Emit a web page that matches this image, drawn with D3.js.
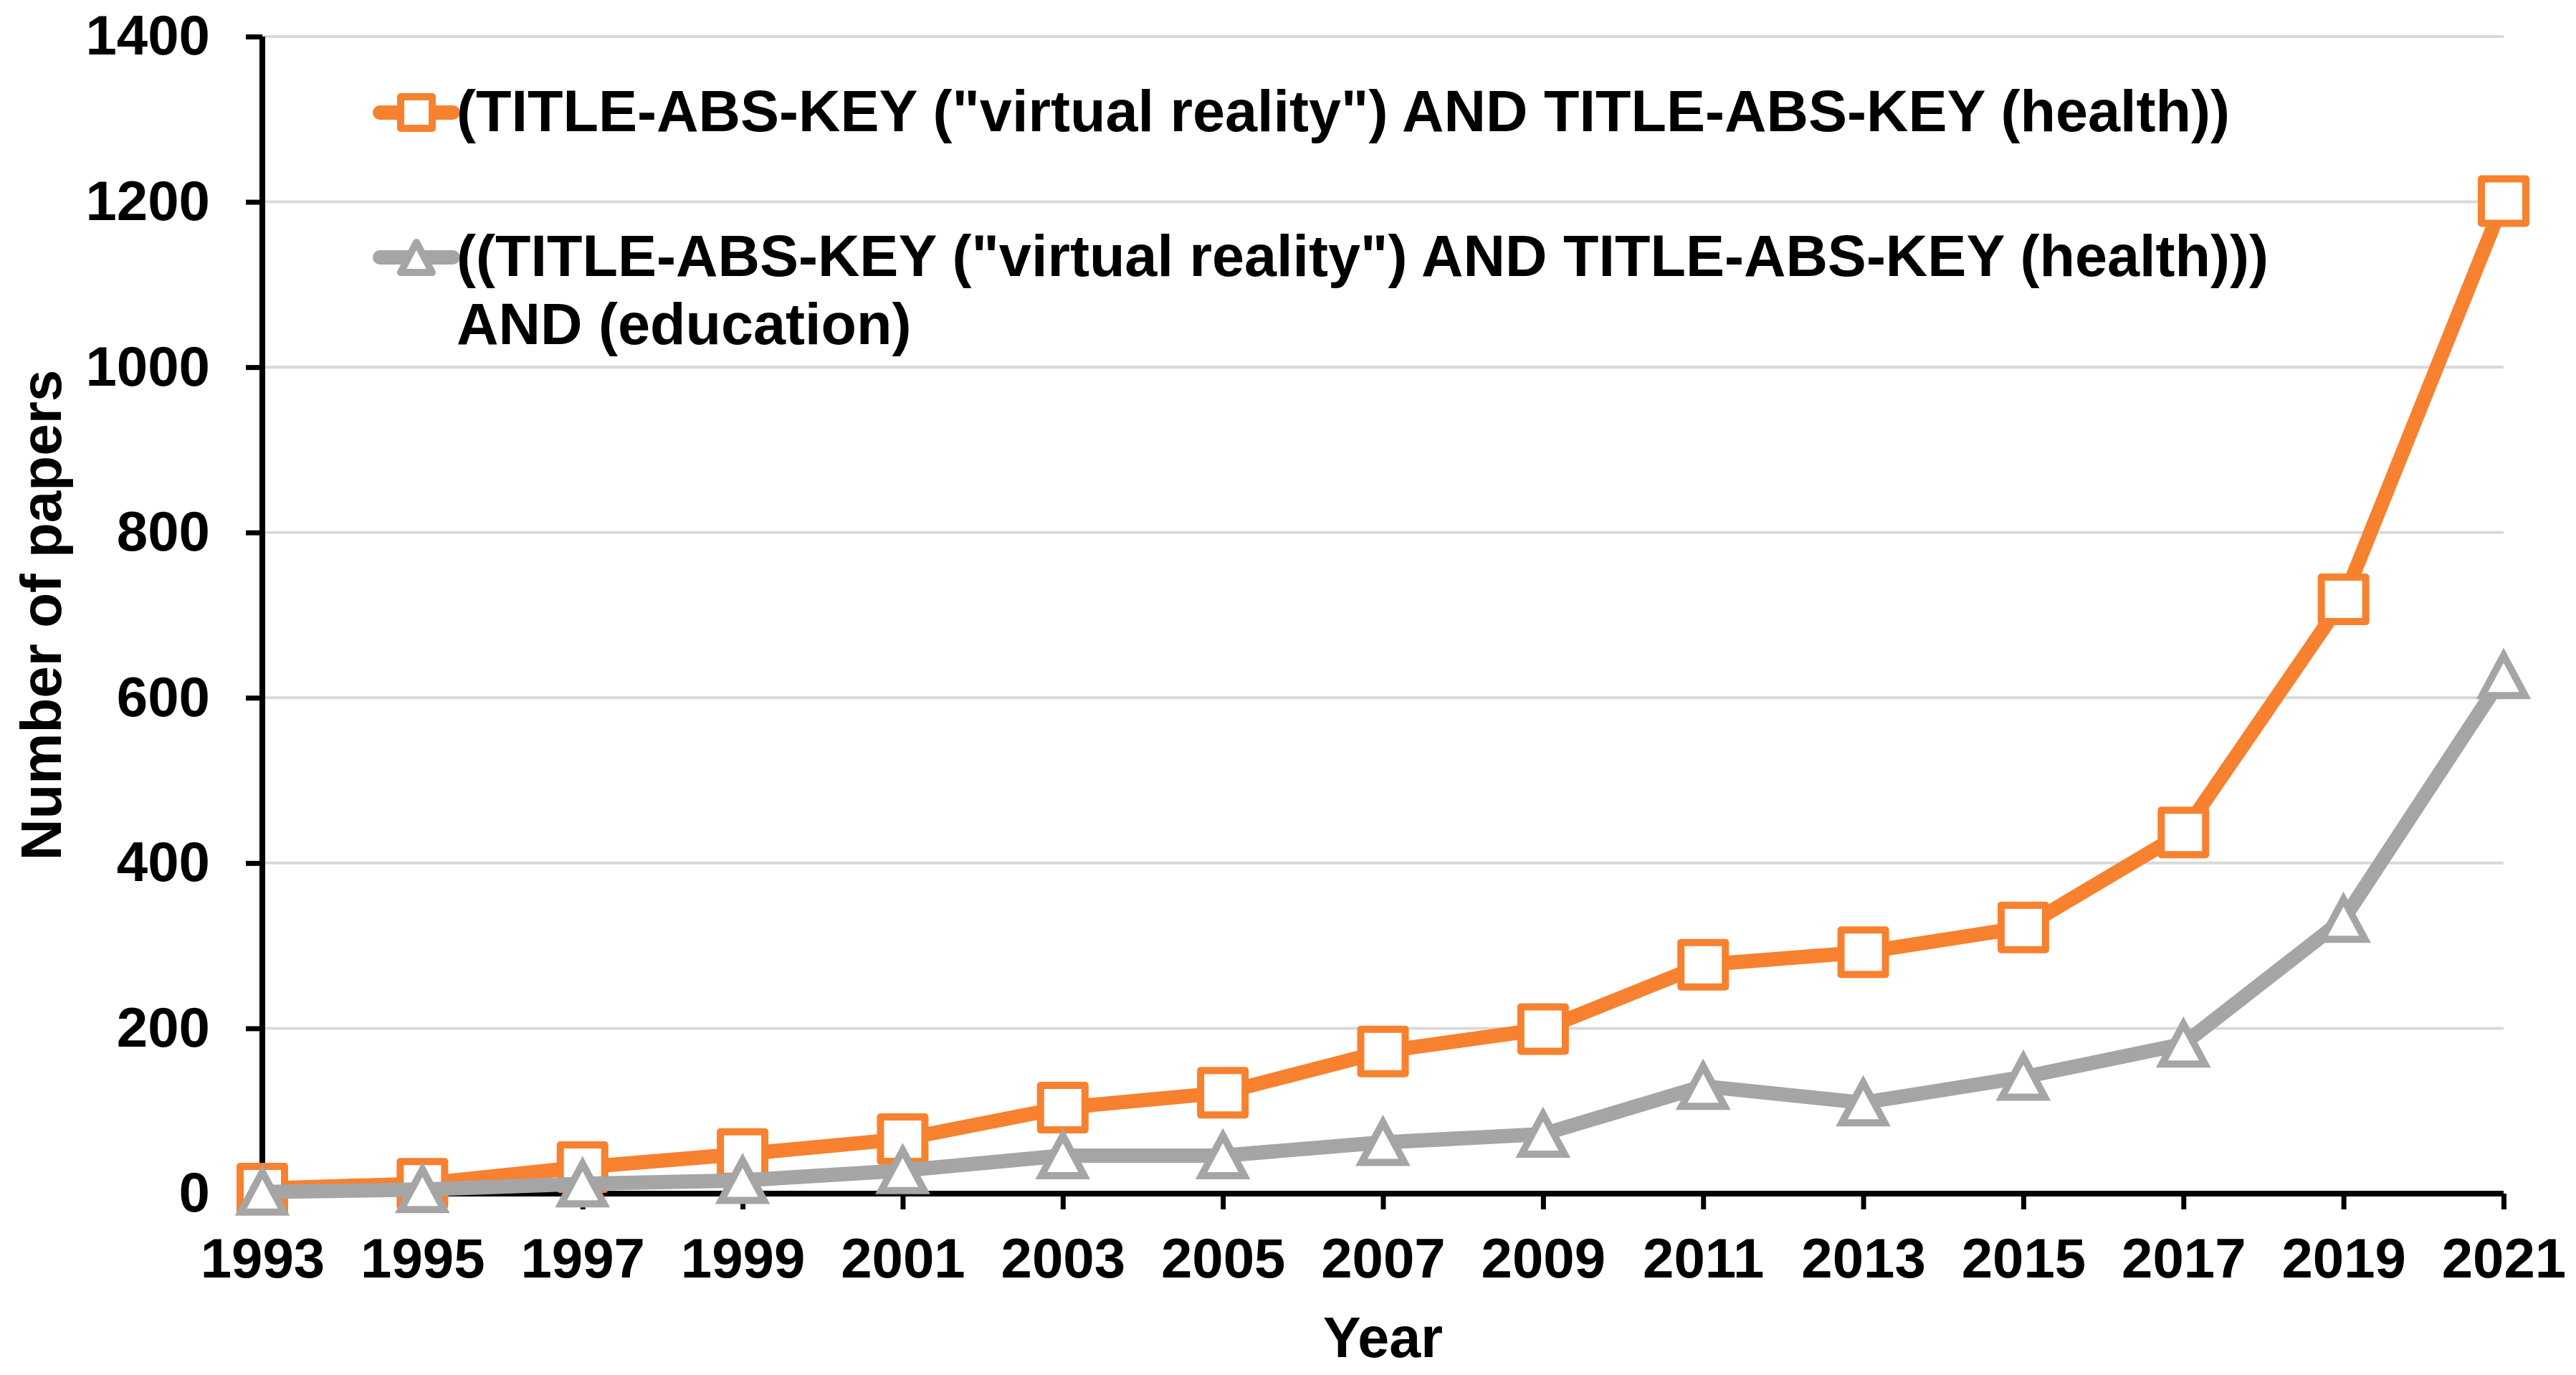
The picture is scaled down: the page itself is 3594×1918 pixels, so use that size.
<!DOCTYPE html>
<html>
<head>
<meta charset="utf-8">
<script src="https://cdn.jsdelivr.net/npm/d3@7"></script>
<style>
  body { margin: 0; background: #fff; }
  text { font-family: "Liberation Sans", Arial, sans-serif; font-weight: bold; fill: #000; }
</style>
</head>
<body>
<div id="chart"></div>
<script>
// values
const years = [1993, 1995, 1997, 1999, 2001, 2003, 2005, 2007, 2009, 2011, 2013, 2015, 2017, 2019, 2021];
const vrHealth = [6, 12, 32, 48, 66, 104, 122, 172, 199, 277, 292, 322, 437, 719, 1201];
const vrHealthEdu = [2, 5, 12, 16, 28, 46, 46, 62, 72, 130, 110, 141, 181, 332, 627];
const yTicks = [0, 200, 400, 600, 800, 1000, 1200, 1400];
const legendLabels = [
  ["(TITLE-ABS-KEY (\"virtual reality\") AND TITLE-ABS-KEY (health))"],
  ["((TITLE-ABS-KEY (\"virtual reality\") AND TITLE-ABS-KEY (health)))", "AND (education)"]
];

const width = 3594;
const height = 1918;
const margin = { left: 366, right: 101, top: 51, bottom: 253 };

const orange = "#f7812f";
const grey = "#a5a5a5";

const svg = d3.select("#chart").append("svg")
  .attr("width", width)
  .attr("height", height);

const x = d3.scaleLinear()
  .domain([1993, 2021])
  .range([margin.left, width - margin.right]);

const y = d3.scaleLinear()
  .domain([0, 1400])
  .range([height - margin.bottom, margin.top]);

// gridlines
svg.append("g")
  .selectAll("line")
  .data(yTicks.filter(d => d > 0))
  .join("line")
  .attr("x1", x(1993)).attr("x2", x(2021))
  .attr("y1", d => y(d)).attr("y2", d => y(d))
  .attr("stroke", "#d9d9d9")
  .attr("stroke-width", 4);

// axes
const yAxis = svg.append("g")
  .attr("transform", `translate(${x(1993)},0)`)
  .call(d3.axisLeft(y).tickValues(yTicks).tickSize(23).tickPadding(50).tickFormat(d3.format("d")));

const xAxis = svg.append("g")
  .attr("transform", `translate(0,${y(0)})`)
  .call(d3.axisBottom(x).tickValues(years).tickSize(22).tickPadding(40).tickFormat(d3.format("d")));

[yAxis, xAxis].forEach(ax => {
  ax.select(".domain").attr("stroke", "#000").attr("stroke-width", 8);
  ax.selectAll(".tick line").attr("stroke", "#000").attr("stroke-width", 7);
  ax.selectAll(".tick text").style("font-size", "78px").attr("fill", "#000");
});
yAxis.select(".domain").attr("d", `M0,${y(1400)}V${y(0)}`);
xAxis.select(".domain").attr("d", `M${x(1993)},0H${x(2021)}`);
xAxis.selectAll(".tick text").attr("dy", "0.71em");

// axis titles
svg.append("text")
  .attr("x", (x(1993) + x(2021)) / 2)
  .attr("y", 1893)
  .attr("text-anchor", "middle")
  .style("font-size", "79px")
  .text("Year");

svg.append("text")
  .attr("transform", `translate(85,${(y(0) + y(1400)) / 2}) rotate(-90)`)
  .attr("text-anchor", "middle")
  .style("font-size", "80px")
  .text("Number of papers");

// marker shapes
const squarePath = s => `M${-s / 2},${-s / 2}H${s / 2}V${s / 2}H${-s / 2}Z`;
const trianglePath = (w, h) => `M0,${-h / 2}L${w / 2},${h / 2}H${-w / 2}Z`;

const line = d3.line()
  .x((d, i) => x(years[i]))
  .y(d => y(d));

const squareMarker = squarePath(62);
const triangleMarker = trianglePath(60, 56);

function drawSeries(values, color, marker) {
  const g = svg.append("g");
  g.append("path")
    .datum(values)
    .attr("d", line)
    .attr("fill", "none")
    .attr("stroke", color)
    .attr("stroke-width", 20)
    .attr("stroke-linejoin", "round")
    .attr("stroke-linecap", "round");
  g.selectAll(".marker")
    .data(values)
    .join("path")
    .attr("class", "marker")
    .attr("d", marker)
    .attr("transform", (d, i) => `translate(${x(years[i])},${y(d)})`)
    .attr("fill", "#fff")
    .attr("stroke", color)
    .attr("stroke-width", 10)
    .attr("stroke-linejoin", marker === squareMarker ? "round" : "miter");
}

drawSeries(vrHealth, orange, squareMarker);
drawSeries(vrHealthEdu, grey, triangleMarker);

// legend
const legendItems = [
  { color: orange, marker: squarePath(44), y: 157, labels: legendLabels[0], textY: 183 },
  { color: grey, marker: trianglePath(44, 42), y: 359, labels: legendLabels[1], textY: 385 }
];

legendItems.forEach(d => {
  const g = svg.append("g");
  g.append("line")
    .attr("x1", 530).attr("x2", 632)
    .attr("y1", d.y).attr("y2", d.y)
    .attr("stroke", d.color)
    .attr("stroke-width", 20)
    .attr("stroke-linecap", "round");
  g.append("path")
    .attr("d", d.marker)
    .attr("transform", `translate(581,${d.y})`)
    .attr("fill", "#fff")
    .attr("stroke", d.color)
    .attr("stroke-width", 10)
    .attr("stroke-linejoin", "round");
  d.labels.forEach((t, i) => {
    g.append("text")
      .attr("x", 637)
      .attr("y", d.textY + i * 95)
      .style("font-size", "81px")
      .text(t);
  });
});
</script>
</body>
</html>
